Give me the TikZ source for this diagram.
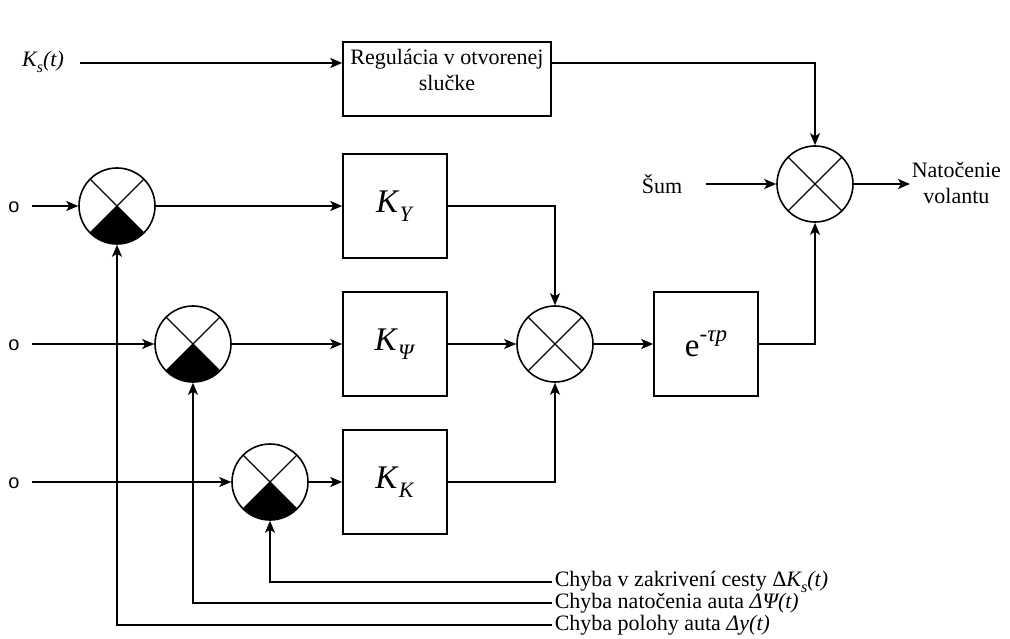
\documentclass[tikz,border=0pt]{standalone}
\usepackage{fontspec}
\setmainfont{Liberation Serif}
\setsansfont{Liberation Sans}
\usetikzlibrary{arrows.meta,calc}
\newcommand{\subsc}[1]{\raisebox{-0.28em}{\fontsize{22}{22}\selectfont\textit{#1}}}
\newcommand{\smallsub}[1]{\raisebox{-0.25em}{\fontsize{16}{16}\selectfont #1}}
\begin{document}
\begin{tikzpicture}[x=1pt,y=-1pt,
  line width=1.6pt,
  font=\fontsize{22}{26}\selectfont,
  arr/.style={-{Stealth[length=12pt,width=10pt,inset=3pt]}},
  blk/.style={draw,minimum width=104pt,minimum height=104pt,inner sep=0pt,font=\fontsize{33}{36}\selectfont},
  sumc/.style={draw,circle,minimum size=76pt,inner sep=0pt,path picture={
      \draw[line width=1.4pt] (path picture bounding box.north west) -- (path picture bounding box.south east)
        (path picture bounding box.north east) -- (path picture bounding box.south west);}},
  inlab/.style={font=\sffamily\fontsize{20}{24}\selectfont,inner sep=0pt},
  txt/.style={inner sep=0pt,align=center}
]
\useasboundingbox (0,0) rectangle (1010,639);
% top open-loop block
\node[txt] (ks) at (43,62) {\textit{K\smallsub{s}(t)}};
\coordinate (kstart) at (80,63);
\node[draw,minimum width=208pt,minimum height=74pt,inner sep=0pt] (reg) at (447,79) {};
\node[txt] (regtxt) at (447,70) {Regulácia v otvorenej\\slučke};
\draw[arr] (kstart) -- (kstart -| reg.west);
% output summing junction
\node[sumc] (s4) at (815,184) {};
\node[txt] (sum) at (662,184) {Šum};
\coordinate (sumstart) at (706,184);
\coordinate (outend) at (910,184);
\node[txt,anchor=west] (out) at (911,183) {Natočenie\\volantu};
\draw[arr] (kstart -| reg.east) -| (s4.north);
\draw[arr] (sumstart) -- (s4.west);
\draw[arr] (s4.east) -- (outend);
% left junctions
\foreach \n/\x/\y in {s1/117/206, s2/193/344, s3/270/482}{
  \node[sumc] (\n) at (\x,\y) {};
  \fill (\n.center) -- ++(225:38pt) arc[start angle=225,end angle=315,radius=38pt] -- cycle;
}
% gain blocks
\node[blk] (ky) at (395,206) {\textit{K}\subsc{Y}};
\node[blk] (kp) at (395,344) {\textit{K}\subsc{Ψ}};
\node[blk] (kk) at (395,482) {\textit{K}\subsc{K}};
\node[sumc] (s5) at (555,344) {};
\node[blk] (ed) at (706,344) {e\raisebox{0.45em}{\fontsize{23}{23}\selectfont -\textit{τp}}};
% inputs
\node[inlab] (i1) at (14,207) {o};
\node[inlab] (i2) at (14,345) {o};
\node[inlab] (i3) at (14,483) {o};
\coordinate (c1) at (32,206);
\coordinate (c2) at (32,344);
\coordinate (c3) at (32,482);
\draw[arr] (c1) -- (s1.west);
\draw[arr] (c2) -- (s2.west);
\draw[arr] (c3) -- (s3.west);
\draw[arr] (s1.east) -- (ky.west);
\draw[arr] (s2.east) -- (kp.west);
\draw[arr] (s3.east) -- (kk.west);
\draw[arr] (ky.east) -| (s5.north);
\draw[arr] (kp.east) -- (s5.west);
\draw[arr] (kk.east) -| (s5.south);
\draw[arr] (s5.east) -- (ed.west);
\draw[arr] (ed.east) -| (s4.south);
% feedback errors
\coordinate (f1) at (552,582);
\coordinate (f2) at (552,603);
\coordinate (f3) at (552,625);
\node[inner sep=0pt,anchor=west] (e1) at (554,582) {Chyba v zakrivení cesty Δ\textit{K\smallsub{s}(t)}};
\node[inner sep=0pt,anchor=west] (e2) at (554,603) {Chyba natočenia auta \textit{ΔΨ(t)}};
\node[inner sep=0pt,anchor=west] (e3) at (554,625) {Chyba polohy auta \textit{Δy(t)}};
\draw[arr] (f1) -| (s3.south);
\draw[arr] (f2) -| (s2.south);
\draw[arr] (f3) -| (s1.south);
\end{tikzpicture}
\end{document}
